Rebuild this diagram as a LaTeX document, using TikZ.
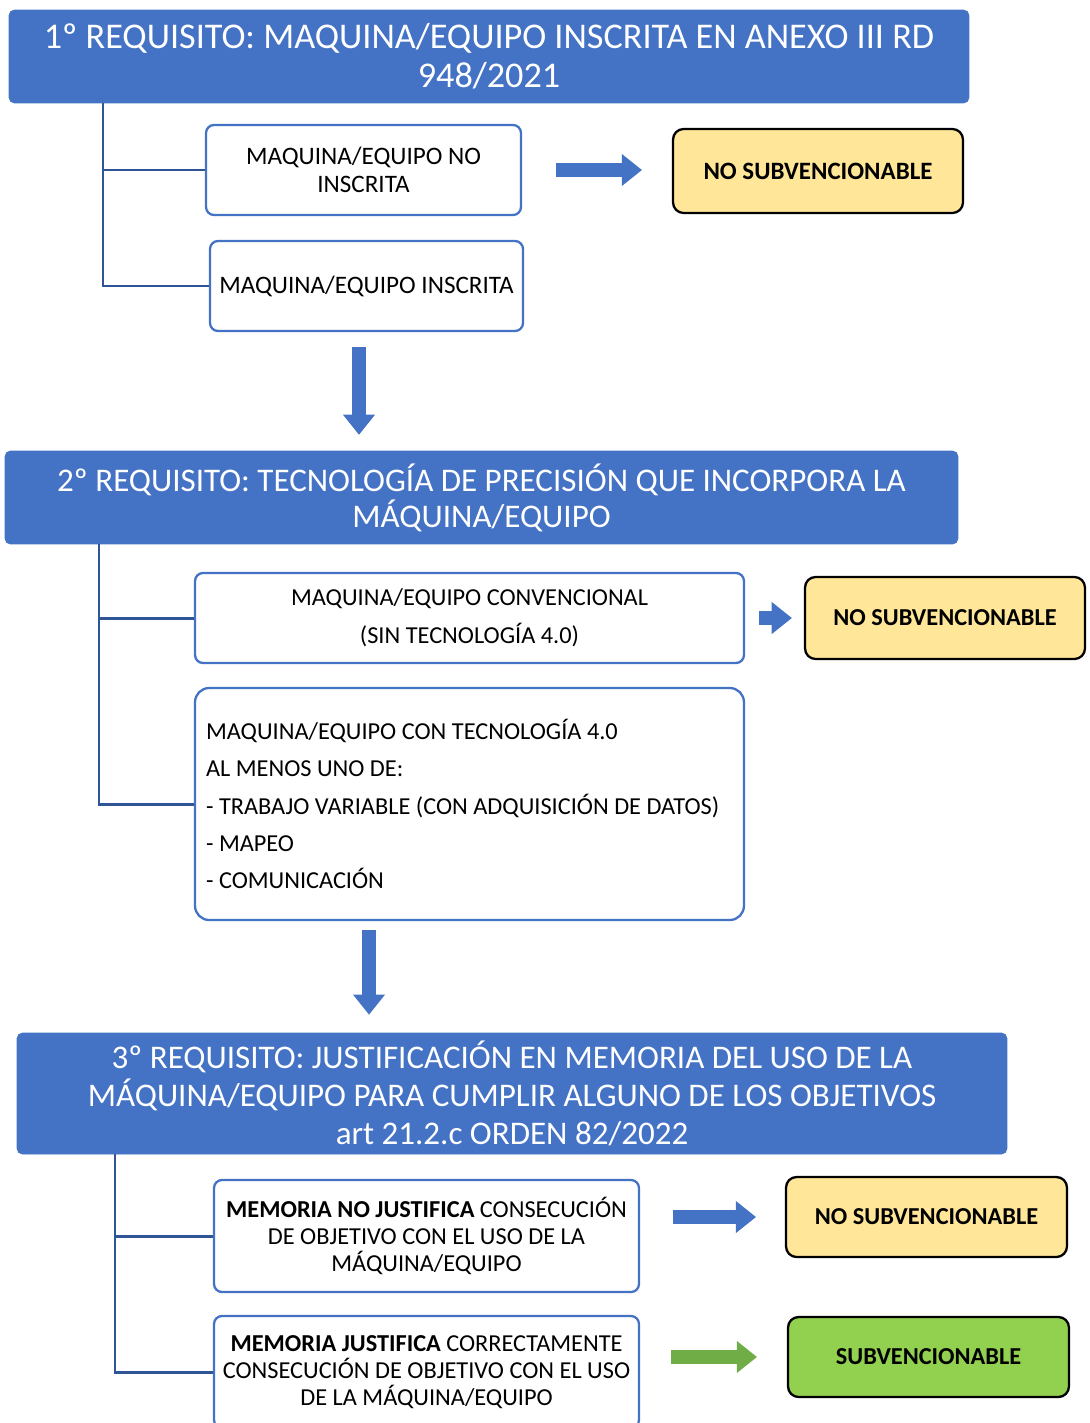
\documentclass[tikz,border=0pt]{standalone}
\usepackage{fontspec}
\setmainfont{Carlito}
\usetikzlibrary{arrows.meta}
\definecolor{reqblue}{RGB}{68,114,196}
\definecolor{linkblue}{RGB}{47,85,151}
\definecolor{nsyellow}{RGB}{255,230,153}
\definecolor{okgreen}{RGB}{146,208,80}
\definecolor{arrowgreen}{RGB}{112,173,71}

\begin{document}
\begin{tikzpicture}[x=0.02cm,y=-0.02cm,
  req/.style={fill=reqblue,draw=reqblue,rounded corners=3pt,text=white,align=center,inner sep=0pt,font=\fontsize{18.8}{21.8}\selectfont},
  opt/.style={draw=reqblue,line width=1.3pt,fill=white,rounded corners=4.5pt,align=center,inner sep=0pt,font=\fontsize{13.85}{15.2}\selectfont},
  nosub/.style={draw=black,line width=1.3pt,fill=nsyellow,rounded corners=6pt,inner sep=0pt,font=\bfseries\fontsize{13.85}{16}\selectfont},
  sub/.style={nosub,fill=okgreen},
  branch/.style={draw=linkblue,line width=1.7pt},
  fat/.style={reqblue,line width=8pt,-{Triangle[width=17.5pt,length=11.5pt]}}]
  \useasboundingbox (0,0) rectangle (1089,1423);
  % requisito 1
  \node[req,minimum width=19.2cm,minimum height=1.86cm,font=\fontsize{20.6}{22.4}\selectfont] (head1) at (489,56.5) {1º REQUISITO: MAQUINA/EQUIPO INSCRITA EN ANEXO III RD\\948/2021};
  \node[opt,minimum width=6.3cm,minimum height=1.8cm,font=\fontsize{14.3}{15.9}\selectfont] (box1a) at (363.5,170) {MAQUINA/EQUIPO NO\\INSCRITA};
  \node[opt,minimum width=6.26cm,minimum height=1.8cm,font=\fontsize{14.3}{15.9}\selectfont] (box1b) at (366.5,286) {MAQUINA/EQUIPO INSCRITA};
  \node[nosub,minimum width=5.8cm,minimum height=1.68cm,font=\bfseries\fontsize{14.2}{16}\selectfont] (ns1) at (818,171) {NO SUBVENCIONABLE};
  \coordinate (c1) at (103,0);
  \draw[branch] (head1.south -| c1) |- (box1a.west) (head1.south -| c1) |- (box1b.west);
  \draw[fat,shorten <=19.3pt,shorten >=17pt] (box1a.east) -- (box1a.east -| ns1.west);
  % requisito 2
  \node[req,minimum width=19.06cm,minimum height=1.86cm,font=\fontsize{18.8}{20.6}\selectfont] (head2) at (481.5,497.5) {2º REQUISITO: TECNOLOGÍA DE PRECISIÓN QUE INCORPORA LA\\MÁQUINA/EQUIPO};
  \coordinate (d1) at (359,331);
  \draw[fat,shorten <=9pt,shorten >=9pt] (d1) -- (d1 |- head2.north);
  \node[opt,minimum width=10.98cm,minimum height=1.8cm,font=\fontsize{13.85}{21.5}\selectfont] (box2a) at (469.5,618) {MAQUINA/EQUIPO CONVENCIONAL\\(SIN TECNOLOGÍA 4.0)};
  \node[opt,rounded corners=8pt,minimum width=10.98cm,minimum height=4.64cm,text width=10.54cm,align=left,font=\fontsize{13.85}{21.3}\selectfont,
    execute at begin node={\spaceskip=0pt\xspaceskip=0pt}] (box2b) at (469.5,804) {MAQUINA/EQUIPO CON TECNOLOGÍA 4.0\\AL MENOS UNO DE:\\- TRABAJO VARIABLE (CON ADQUISICIÓN DE DATOS)\\- MAPEO\\- COMUNICACIÓN};
  \node[nosub,minimum width=5.6cm,minimum height=1.64cm] (ns2) at (945,618) {NO SUBVENCIONABLE};
  \coordinate (c2) at (99,0);
  \draw[branch] (head2.south -| c2) |- (box2a.west) (head2.south -| c2) |- (box2b.west);
  \draw[fat,shorten <=8pt,shorten >=6.8pt] (box2a.east) -- (ns2.west);
  % requisito 3
  \node[req,minimum width=19.8cm,minimum height=2.42cm] (head3) at (512,1093.5) {3º REQUISITO: JUSTIFICACIÓN EN MEMORIA DEL USO DE LA\\MÁQUINA/EQUIPO PARA CUMPLIR ALGUNO DE LOS OBJETIVOS\\art 21.2.c ORDEN 82/2022};
  \coordinate (d2) at (369,920);
  \draw[fat,shorten <=5.7pt,shorten >=10.2pt] (d2) -- (d2 |- head3.north);
  \node[opt,minimum width=8.5cm,minimum height=2.24cm] (box3a) at (426.5,1236) {\textbf{MEMORIA NO JUSTIFICA} CONSECUCIÓN\\DE OBJETIVO CON EL USO DE LA\\MÁQUINA/EQUIPO};
  \node[opt,minimum width=8.5cm,minimum height=2.24cm] (box3b) at (426.5,1372) {\textbf{MEMORIA JUSTIFICA} CORRECTAMENTE\\CONSECUCIÓN DE OBJETIVO CON EL USO\\DE LA MÁQUINA/EQUIPO};
  \node[nosub,minimum width=5.62cm,minimum height=1.6cm] (ns3) at (926.5,1217) {NO SUBVENCIONABLE};
  \node[sub,minimum width=5.62cm,minimum height=1.6cm] (ok) at (928.5,1357) {SUBVENCIONABLE};
  \coordinate (c3) at (115,0);
  \draw[branch] (head3.south -| c3) |- (box3a.west) (head3.south -| c3) |- (box3b.west);
  \draw[fat,shorten <=18.7pt,shorten >=16.4pt] (box3a.east |- ns3.west) -- (ns3.west);
  \draw[fat,arrowgreen,shorten <=17.5pt,shorten >=17pt] (box3b.east |- ok.west) -- (ok.west);
\end{tikzpicture}
\end{document}
